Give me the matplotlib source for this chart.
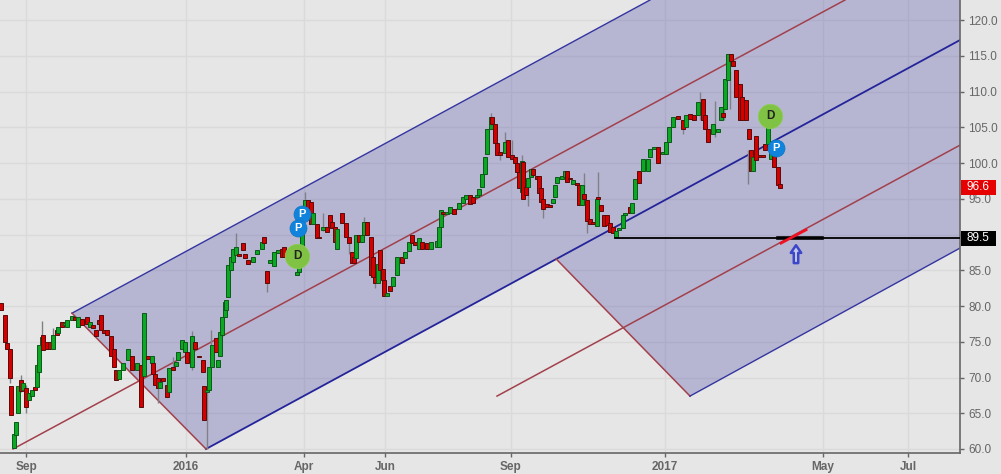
import matplotlib
matplotlib.use("Agg")
import matplotlib.pyplot as plt
from matplotlib.patches import Rectangle

plt.rcParams['font.family'] = ['Liberation Sans', 'DejaVu Sans']

# one session is drawn two pixels wide on this chart
bar_session = [
    0.5, 2.5, 3.5, 5, 5.5, 7, 8, 9, 10.5, 11.5,
    13, 14.5, 16, 17.5, 18.5, 19.5, 21, 21.5, 23.5, 25,
    26.5, 28.5, 29, 31, 32.5, 33.5, 36, 37.5, 39, 41,
    43.5, 45, 46.5, 48, 49.5, 50.5, 52, 53.5, 55.5, 57,
    58, 59.5, 61.5, 64, 66, 68.5, 70.5, 72, 74, 76,
    76.5, 77.5, 79, 80, 81.5, 83.5, 84.5, 86.5, 88, 89,
    91, 92.5, 93.5, 96, 97.5, 99.5, 101.5, 102, 103.5, 104.5,
    106, 108, 109, 110, 111, 112.5, 113, 114, 115.5, 116.5,
    118, 119.5, 121.5, 122.5, 124, 126.5, 128.5, 131, 132, 133.5,
    135, 137, 139, 141, 142, 144, 147.5, 148.5, 149.5, 151,
    152.5, 154, 155.5, 156.5, 158.5, 159.5, 161.5, 163.5, 165, 166,
    167.5, 168.5, 171, 173, 174.5, 176, 177, 178, 179.5, 181,
    182, 183.5, 185.5, 186.5, 187.5, 189, 190, 191.5, 192, 193.5,
    195, 196.5, 198.5, 201, 202.5, 204.5, 206, 207.5, 209.5, 211,
    213.5, 215.5, 218.5, 219.5, 220.5, 221.5, 223.5, 225, 227, 229.5,
    231.5, 233, 235, 236.5, 238.5, 239.5, 241, 242.5, 243.5, 245.5,
    246, 247.5, 248.5, 250, 252.5, 254, 256, 257.5, 258.5, 259.5,
    261, 261.5, 263, 264, 265.5, 266.5, 268.5, 269.5, 270.5, 271.5,
    273.5, 275, 276.5, 277.5, 278.5, 281, 282.5, 283.5, 285, 286.5,
    288.5, 289.5, 291, 292, 293.5, 295, 296.5, 298.5, 299, 300.5,
    302, 303.5, 305, 306.5, 308, 309.5, 311.5, 312.5, 315, 316,
    317.5, 319.5, 321.5, 324, 325, 327, 329, 331.5, 333, 334.5,
    336.5, 339, 341.5, 343, 345, 347, 349, 351.5, 352.5, 354,
    356.5, 359, 360.5, 361.5, 362.5, 364, 365.5, 366.5, 368, 370,
    371, 373, 374.5, 375.5, 376.5, 378, 380, 381.5, 382.5, 384,
    385.5, 387, 389, 390,
]
bar_open = [
    80.4, 78.8, 74.8, 74.0, 68.8, 60.1, 62.0, 65.0, 69.6, 68.2,
    68.5, 66.8, 67.4, 68.7, 68.7, 70.8, 74.5, 75.9, 74.9, 75.0,
    74.0, 76.6, 76.2, 77.7, 77.4, 77.0, 78.0, 78.4, 77.0, 78.2,
    78.4, 77.0, 77.4, 76.6, 78.0, 78.8, 76.6, 76.6, 75.8, 74.0,
    71.0, 69.8, 71.0, 72.5, 73.0, 71.0, 71.8, 70.2, 73.0, 72.0,
    72.0, 70.5, 70.0, 68.5, 70.0, 69.0, 68.0, 71.5, 71.6, 72.5,
    74.0, 73.5, 73.5, 71.5, 75.0, 73.0, 72.5, 68.8, 68.0, 68.2,
    71.5, 75.5, 71.5, 73.0, 76.0, 78.5, 79.4, 81.3, 85.0, 86.2,
    87.1, 87.3, 88.8, 87.3, 86.4, 86.2, 87.3, 88.0, 89.7, 84.9,
    86.0, 85.6, 87.4, 88.0, 88.3, 87.5, 87.1, 84.3, 84.8, 88.0,
    93.9, 94.8, 94.5, 91.5, 91.5, 89.7, 90.7, 91.0, 92.7, 91.8,
    91.0, 88.0, 93.0, 91.6, 89.7, 87.6, 86.8, 86.7, 90.0, 89.0,
    90.0, 91.8, 89.7, 86.9, 84.0, 83.2, 87.9, 85.2, 83.6, 81.4,
    82.8, 82.8, 84.3, 86.8, 86.7, 87.7, 89.9, 89.0, 88.0, 88.9,
    88.8, 88.0, 88.3, 88.3, 91.1, 93.2, 92.8, 93.0, 93.6, 93.6,
    94.4, 95.0, 95.5, 95.3, 95.2, 95.5, 96.6, 98.5, 101.3, 104.8,
    106.4, 105.4, 102.8, 101.6, 101.4, 103.2, 101.1, 100.9, 100.0, 98.8,
    96.0, 100.2, 96.6, 96.6, 98.0, 99.2, 98.2, 98.2, 96.5, 95.0,
    94.3, 94.1, 94.4, 95.3, 97.2, 97.7, 98.0, 98.9, 97.9, 97.1,
    97.2, 96.9, 94.1, 95.7, 94.8, 92.2, 91.8, 91.2, 95.3, 94.1,
    92.7, 92.7, 91.6, 91.0, 89.7, 90.7, 90.9, 92.7, 93.9, 93.0,
    95.0, 98.9, 98.9, 98.9, 100.9, 102.0, 102.3, 101.3, 101.3, 103.0,
    105.0, 106.6, 106.0, 105.0, 106.9, 106.7, 106.7, 109.0, 106.7, 104.7,
    104.1, 104.4, 106.0, 107.0, 107.6, 111.6, 115.3, 114.3, 113.0, 111.0,
    109.3, 108.8, 104.7, 101.8, 98.9, 103.8, 101.1, 101.1, 102.7, 102.7,
    100.6, 101.0, 99.4, 97.1,
]
bar_close = [
    79.4, 75.0, 74.0, 70.0, 64.8, 62.1, 63.8, 68.8, 68.1, 69.3,
    65.9, 67.8, 68.3, 68.3, 71.7, 74.5, 75.7, 73.8, 74.0, 74.0,
    75.9, 75.9, 77.0, 77.0, 77.6, 78.0, 78.6, 78.1, 78.4, 77.3,
    77.5, 77.8, 76.9, 75.8, 77.5, 76.6, 76.2, 76.0, 73.0, 71.4,
    69.6, 71.0, 72.0, 74.0, 71.0, 72.0, 65.9, 79.0, 72.6, 73.0,
    70.5, 69.0, 68.5, 69.4, 69.5, 67.3, 71.3, 71.0, 72.2, 73.5,
    75.2, 75.0, 72.0, 75.8, 74.0, 72.8, 70.7, 64.0, 68.2, 71.5,
    74.5, 73.5, 72.5, 76.3, 78.5, 80.5, 80.9, 85.7, 86.9, 88.0,
    88.3, 87.0, 87.8, 86.7, 85.9, 86.9, 87.9, 89.0, 88.8, 83.2,
    86.4, 87.6, 87.8, 86.9, 86.8, 87.9, 86.8, 84.8, 87.1, 91.0,
    94.8, 93.6, 91.5, 93.0, 89.5, 89.5, 91.0, 90.4, 91.1, 90.9,
    89.0, 90.8, 91.6, 89.7, 88.8, 86.0, 86.0, 90.0, 88.9, 90.0,
    91.8, 90.0, 84.3, 84.1, 83.2, 85.9, 85.0, 83.6, 81.4, 81.8,
    82.1, 84.1, 86.8, 86.0, 87.6, 89.0, 88.8, 88.5, 89.5, 88.0,
    88.0, 89.0, 89.1, 91.0, 93.4, 92.9, 93.2, 93.8, 92.8, 94.4,
    95.3, 95.5, 94.3, 94.4, 95.5, 96.4, 98.5, 100.9, 104.8, 106.4,
    105.4, 102.8, 101.1, 101.1, 103.0, 100.9, 100.6, 100.0, 98.8, 96.5,
    100.3, 95.0, 95.5, 97.9, 99.2, 98.3, 97.8, 95.8, 94.6, 93.6,
    93.8, 93.8, 95.0, 96.9, 98.0, 98.2, 98.9, 97.4, 97.7, 97.6,
    96.9, 94.1, 96.9, 94.9, 91.9, 91.5, 91.5, 95.0, 94.9, 93.3,
    91.2, 91.3, 90.4, 90.2, 90.5, 90.9, 92.7, 93.0, 93.0, 94.4,
    97.7, 97.2, 100.5, 100.6, 102.0, 102.3, 100.0, 101.5, 103.0, 105.0,
    106.4, 106.1, 104.8, 106.7, 106.2, 106.0, 108.6, 106.0, 104.8, 103.0,
    105.5, 104.8, 107.9, 106.4, 111.8, 115.3, 114.2, 113.6, 109.3, 106.0,
    106.0, 106.0, 103.4, 98.9, 100.9, 100.4, 100.9, 100.9, 101.8, 105.0,
    102.0, 99.5, 96.9, 96.5,
]

# only the bars whose wick sticks out of the body
wick_session = [5, 10.5, 13, 21, 26.5, 79, 86.5, 96, 103.5, 105.5, 118, 133.5, 152.5, 161.5, 174.5, 182, 187.5,
                245.5, 250, 252.5, 256, 261, 264, 271.5, 292, 293.5, 299, 341.5, 350, 357.5, 362, 365, 374, 376.5, 384]
wick_high = [74.0, 70.3, 69.0, 77.9, 76.9, 70.0, 72.8, 76.5, 68.5, 76.6, 90.2, 84.9, 96.0, 93.0, 89.7, 92.4, 84.0,
             107.0, 101.6, 104.4, 103.2, 101.1, 97.9, 95.0, 98.6, 94.8, 98.8, 106.0, 110.0, 108.7, 107.9, 112.8, 101.8, 100.9, 106.0]
wick_low = [69.2, 68.0, 65.0, 75.0, 75.9, 66.5, 71.0, 71.0, 60.0, 71.5, 87.1, 82.0, 93.9, 90.5, 87.3, 90.0, 82.5,
            104.8, 100.4, 101.4, 100.9, 99.0, 94.0, 92.3, 94.9, 90.2, 94.9, 104.0, 106.0, 103.7, 106.0, 107.6, 97.1, 99.5, 102.7]

# pitchfork anchors
fork_a = (6.5, 60.0)
fork_b = (36.0, 79.0)
fork_c = (103.0, 60.0)
upper_end = (325.0, 122.8)
median_end = (422.5, 122.8)
lower_end = (480.0, 117.2)
fork2_b = (278.0, 86.6)
fork2_c = (345.0, 67.4)
fork2_lower_end = (480.0, 88.1)
fork2_median_start = (248.5, 67.4)
fork2_median_end = (480.0, 102.5)

# horizontal level and the short target segment on it
level_price = 89.5
level_start = 307.5
target_x = [389, 411]
target_bar = [390.5, 403]
target_y = [88.8, 90.65]

event_session = [148.5, 151, 149, 385, 388]
event_price = [87.0, 92.8, 90.9, 106.6, 102.1]
event_label = ['D', 'P', 'P', 'D', 'P']

y_ticks = list(range(60, 125, 5))
x_tick_pos = [13, 93, 152, 192.5, 255.5, 332.5, 411.5, 454]
x_tick_labels = ['Sep', '2016', 'Apr', 'Jun', 'Sep', '2017', 'May', 'Jul']

RED = '#d40000'
GREEN = '#0ca824'
BROWN = '#a2404c'
BLUE = '#24249a'
GREY = '#666666'

fig = plt.figure(figsize=(10.01, 4.74), dpi=100, facecolor='#e6e6e6')
ax = fig.add_axes([0, 21 / 474, 960 / 1001, 453 / 474], facecolor='#e6e6e6')
ax.set_xlim(0, 480)
ax.set_ylim(59.44, 122.8)

ax.set_yticks(y_ticks)
# the 89.5 box sits where the 90.0 label would be
ax.set_yticklabels(['' if t == 90 else f'{t:.1f}' for t in y_ticks])
ax.set_xticks(x_tick_pos)
ax.set_xticklabels(x_tick_labels, fontweight='bold')
ax.yaxis.tick_right()
ax.set_axisbelow(True)
ax.grid(True, color='#dadada', lw=1)
ax.tick_params(axis='both', colors=GREY, labelsize=8.5, length=3, width=1, pad=3)
for side in ['top', 'left']:
    ax.spines[side].set_visible(False)
for side in ['right', 'bottom']:
    ax.spines[side].set_color(GREY)
    ax.spines[side].set_linewidth(1.2)

# shaded channels
ax.fill([fork_b[0], upper_end[0], 480, lower_end[0], fork_c[0]],
        [fork_b[1], upper_end[1], 122.8, lower_end[1], fork_c[1]],
        color='#2a2a9c', alpha=0.25, lw=0, zorder=1)
ax.fill([fork2_b[0], lower_end[0], fork2_lower_end[0], fork2_c[0]],
        [fork2_b[1], lower_end[1], fork2_lower_end[1], fork2_c[1]],
        color='#2a2a9c', alpha=0.25, lw=0, zorder=1)

# fork lines
ax.plot([fork_b[0], upper_end[0]], [fork_b[1], upper_end[1]], color=BLUE, lw=1, alpha=0.9, zorder=2)
ax.plot([fork_c[0], lower_end[0]], [fork_c[1], lower_end[1]], color=BLUE, lw=1.3, zorder=2)
ax.plot([fork_a[0], median_end[0]], [fork_a[1], median_end[1]], color=BROWN, lw=1.1, zorder=2)
ax.plot([fork_b[0], fork_c[0]], [fork_b[1], fork_c[1]], color=BROWN, lw=1.1, zorder=2)
ax.plot([fork2_b[0], fork2_c[0]], [fork2_b[1], fork2_c[1]], color=BROWN, lw=1.1, zorder=2)
ax.plot([fork2_c[0], fork2_lower_end[0]], [fork2_c[1], fork2_lower_end[1]], color=BLUE, lw=1, alpha=0.9, zorder=2)
ax.plot([fork2_median_start[0], fork2_median_end[0]], [fork2_median_start[1], fork2_median_end[1]],
        color=BROWN, lw=1.1, zorder=2)

# candles
ax.vlines(wick_session, wick_low, wick_high, color='#808088', lw=1, zorder=3)
colors = [GREEN if c >= o else RED for o, c in zip(bar_open, bar_close)]
edges = ['#0a5a18' if c >= o else '#5a0a0a' for o, c in zip(bar_open, bar_close)]
ax.bar(bar_session, [c - o for o, c in zip(bar_open, bar_close)], bottom=bar_open, width=1.7,
       color=colors, edgecolor=edges, linewidth=0.7, zorder=4)

# level, target and arrow
ax.plot([level_start, 480], [level_price, level_price], color='black', lw=1.3, zorder=5)
ax.plot(target_x, [level_price, level_price], color='black', lw=2.6, zorder=5)
ax.plot(target_bar, target_y, color='#f01020', lw=2, zorder=6)
ax.annotate('', xy=(398, 88.5), xytext=(398, 86.0),
            arrowprops=dict(arrowstyle='simple,head_width=0.75,head_length=0.55,tail_width=0.32',
                            fc='#c4c8ea', ec='#3c46c8', lw=1.8, shrinkA=0, shrinkB=0), zorder=6)

# event bubbles, D first so the P sit on top
for s, p, lab in zip(event_session, event_price, event_label):
    if lab == 'D':
        ax.scatter([s], [p], s=310, color='#80c244', edgecolor='#8fcf55', lw=0.5, zorder=7)
        ax.text(s, p, lab, ha='center', va='center', fontsize=8.5, fontweight='bold', color='#222222', zorder=8)
for n, (s, p, lab) in enumerate(zip(event_session, event_price, event_label)):
    if lab == 'P':
        ax.scatter([s], [p], s=150, color='#1084dc', edgecolor='#0f74c0', lw=0.5, zorder=9 + n)
        ax.text(s, p, lab, ha='center', va='center', fontsize=8, fontweight='bold', color='white', zorder=9 + n)

# price boxes on the right axis
axis_tf = ax.get_yaxis_transform()
for price, face in [(96.6, '#e60000'), (89.5, '#000000')]:
    ax.add_patch(Rectangle((1.001, price - 1.05), 0.036, 2.1, transform=axis_tf, clip_on=False,
                           facecolor=face, edgecolor='none', zorder=20))
    ax.text(1.019, price, f'{price:.1f}', transform=axis_tf, ha='center', va='center', fontsize=8.5,
            color='white', clip_on=False, zorder=21)

fig.savefig('out.png', dpi=100, facecolor=fig.get_facecolor())
